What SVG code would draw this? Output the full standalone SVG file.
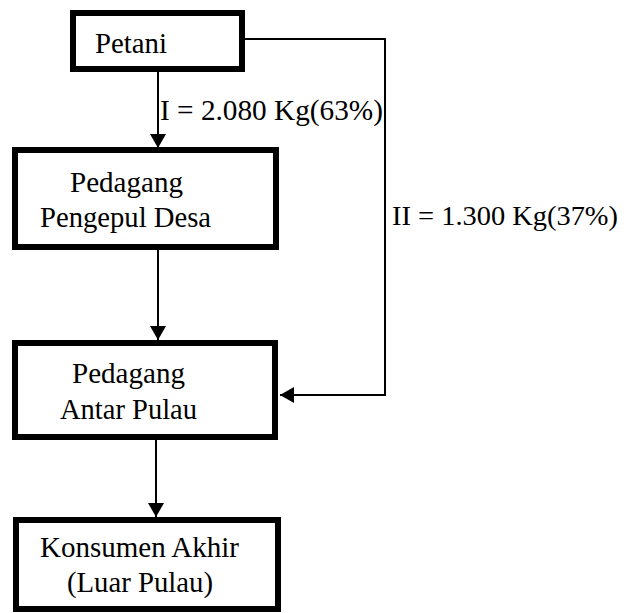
<svg xmlns="http://www.w3.org/2000/svg" width="628" height="613" viewBox="0 0 628 613">
<defs>
<style>
.box{fill:#fff;stroke:#000;stroke-width:6}
.c{fill:none;stroke:#000;stroke-width:2}
</style>
<marker id="ah" markerUnits="userSpaceOnUse" markerWidth="16" markerHeight="16" viewBox="0 0 14 16" refX="14" refY="8" orient="auto">
<path d="M0,0 L14,8 L0,16 Z" fill="#000"/>
</marker>
</defs>
<rect width="628" height="613" fill="#fff"/>
<g font-family="'Liberation Serif', 'Times New Roman', serif" font-size="30" fill="#000">
<g id="connectors">
<line class="c" x1="158" y1="65" x2="158" y2="148" marker-end="url(#ah)"/>
<line class="c" x1="158" y1="250" x2="158" y2="340" marker-end="url(#ah)"/>
<line class="c" x1="156" y1="436" x2="156" y2="517" marker-end="url(#ah)"/>
<polyline class="c" points="245,39 385,39 385,395 280,395" marker-end="url(#ah)"/>
<text x="160" y="120" textLength="223" lengthAdjust="spacingAndGlyphs">I = 2.080 Kg(63%)</text>
<text x="392" y="225" font-size="28" textLength="226" lengthAdjust="spacingAndGlyphs">II = 1.300 Kg(37%)</text>
</g>
<g id="petani">
<rect class="box" x="73" y="13" width="169" height="56"/>
<text x="95" y="53" textLength="72" lengthAdjust="spacingAndGlyphs">Petani</text>
</g>
<g id="pengepul">
<rect class="box" x="15" y="150" width="261" height="97"/>
<text x="70" y="192" textLength="113" lengthAdjust="spacingAndGlyphs">Pedagang</text>
<text x="40" y="227" textLength="171" lengthAdjust="spacingAndGlyphs">Pengepul Desa</text>
</g>
<g id="antarpulau">
<rect class="box" x="15" y="343" width="260" height="94"/>
<text x="72" y="383" textLength="113" lengthAdjust="spacingAndGlyphs">Pedagang</text>
<text x="60" y="419" textLength="137" lengthAdjust="spacingAndGlyphs">Antar Pulau</text>
</g>
<g id="konsumen">
<rect class="box" x="16" y="520" width="262" height="89"/>
<text x="40" y="557" textLength="199" lengthAdjust="spacingAndGlyphs">Konsumen Akhir</text>
<text x="67" y="592" textLength="146" lengthAdjust="spacingAndGlyphs">(Luar Pulau)</text>
</g>
</g>
</svg>
